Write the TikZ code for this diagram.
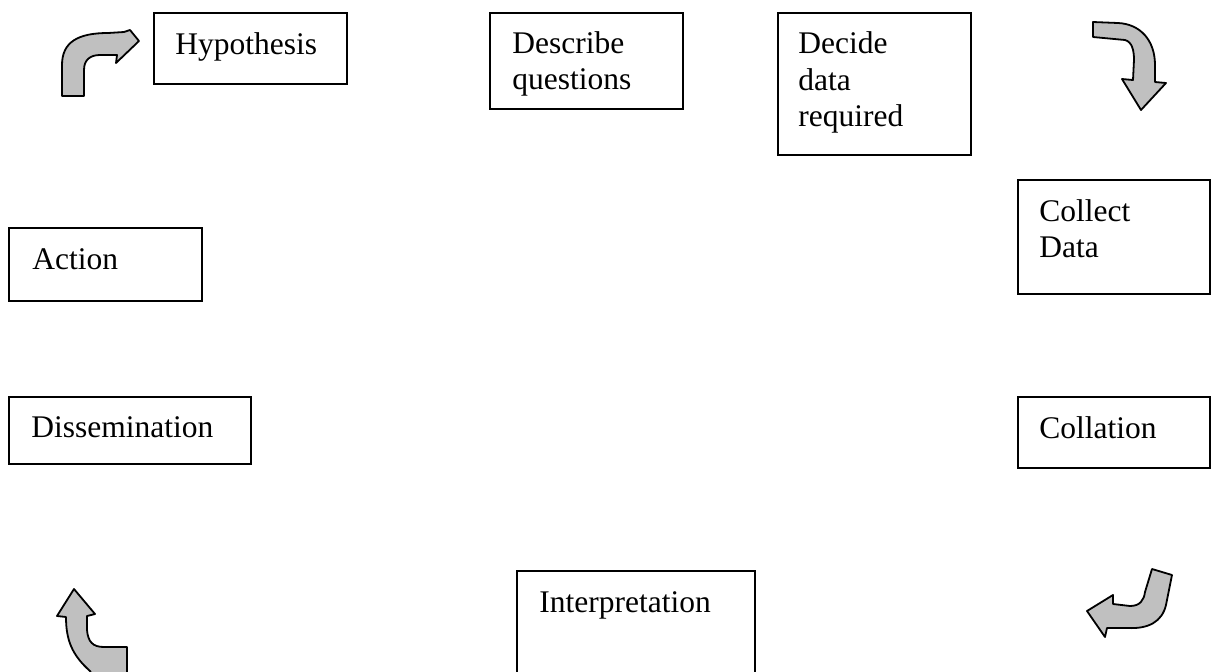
\documentclass[tikz,border=0pt]{standalone}
\usepackage{fontspec}
\setmainfont{Liberation Serif}
\usetikzlibrary{fit}
\definecolor{arrowgray}{RGB}{192,192,192}
\tikzset{
  box/.style={draw, line width=0.8pt, inner sep=0pt},
  lbl/.style={anchor=base west, inner sep=0pt, font=\fontsize{15.75pt}{18pt}\selectfont},
  bentarrow/.style={draw, line width=0.9pt, fill=arrowgray, line join=round}
}
\begin{document}
\begin{tikzpicture}[x=0.5pt, y=-0.5pt]
\useasboundingbox (0,0) rectangle (1212,671);
\clip (0,0) rectangle (1212,671);
\fill[white] (0,0) rectangle (1212,671);

% boxes
\node[box, fit={(154,13) (347,84)}] (hyp) {};
\node[box, fit={(490,13) (683,109)}] (desc) {};
\node[box, fit={(778,13) (971,155)}] (decide) {};
\node[box, fit={(1018,180) (1210,294)}] (collect) {};
\node[box, fit={(9,228) (202,301)}] (action) {};
\node[box, fit={(9,397) (251,464)}] (dissem) {};
\node[box, fit={(1018,397) (1210,468)}] (collat) {};
\node[box, fit={(517,571) (755,700)}] (interp) {};

% texts
\node[lbl] (thyp) at (175,54) {Hypothesis};
\node[lbl] (tdesc1) at (512,53) {Describe};
\node[lbl] (tdesc2) at (512,89) {questions};
\node[lbl] (tdec1) at (798,53) {Decide};
\node[lbl] (tdec2) at (798,90) {data};
\node[lbl] (tdec3) at (798,126) {required};
\node[lbl] (tcol1) at (1039,221) {Collect};
\node[lbl] (tcol2) at (1039,257) {Data};
\node[lbl] (tact) at (32,269) {Action};
\node[lbl] (tdis) at (31,437) {Dissemination};
\node[lbl] (tcoll) at (1039,438) {Collation};
\node[lbl] (tint) at (539,612) {Interpretation};

% curved block arrows
\path[bentarrow] (62,96) -- (62,65) .. controls (62,42) and (78,33) .. (108,33)
  -- (124,32) -- (130,30) -- (139,41) -- (116,63) -- (117,55) -- (100,55)
  .. controls (90,55) and (84,60) .. (84,70) -- (84,96) -- cycle;

\path[bentarrow] (1093,22) -- (1093,37) -- (1125,40)
  .. controls (1132,42) and (1134,50) .. (1134,60) -- (1133,80) -- (1122,79)
  -- (1141,110) -- (1166,83) -- (1155,82) -- (1155,65)
  .. controls (1155,40) and (1140,24) .. (1118,23) -- cycle;

\path[bentarrow] (1152,569) -- (1172,575) -- (1166,605)
  .. controls (1162,622) and (1148,629) .. (1128,628) -- (1107,628)
  -- (1105,637) -- (1087,611) -- (1113,595) -- (1113,604) -- (1130,606)
  .. controls (1140,606) and (1144,600) .. (1145,592) -- cycle;

\path[bentarrow] (74,589) -- (95,614) -- (87,616) -- (87,630)
  .. controls (88,642) and (93,647) .. (104,647) -- (127,647) -- (127,690)
  -- (100,690) -- (90,671) .. controls (72,655) and (66,640) .. (66,617)
  -- (57,616) -- cycle;
\end{tikzpicture}
\end{document}
